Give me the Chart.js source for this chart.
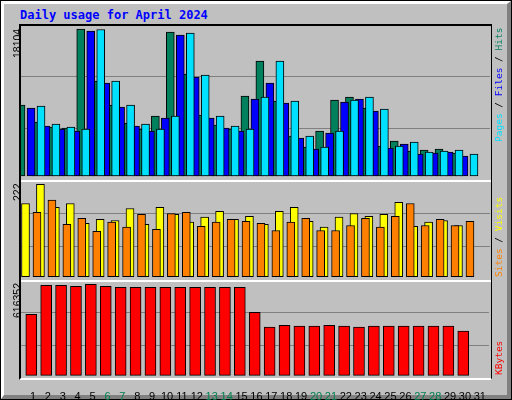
<!DOCTYPE html>
<html><head><meta charset="utf-8">
<script src="https://cdn.jsdelivr.net/npm/chart.js@4/dist/chart.umd.min.js"></script>
<style>
body{margin:0;background:#C0C0C0;width:512px;height:400px;overflow:hidden;position:relative;font-family:'Liberation Sans',sans-serif}
.abs{position:absolute}
canvas{position:absolute}
.frame{position:absolute;box-sizing:border-box;pointer-events:none}
.rot{position:absolute;transform-origin:left top;transform:rotate(-90deg);white-space:nowrap;line-height:1}
.mono{font-family:'DejaVu Sans Mono',monospace;font-size:9.5px}
.num{font-size:10.5px;color:#000}
</style></head><body>
<div class="frame" style="left:0;top:0;width:512px;height:400px;border:1px solid #000"></div>
<div class="frame" style="left:1px;top:1px;width:510px;height:398px;border-top:3px solid #fff;border-left:3px solid #fff;border-right:4px solid #808080;border-bottom:4px solid #808080"></div>
<div class="abs" style="left:20px;top:8px;font:bold 12px 'DejaVu Sans Mono',monospace;color:#0000FF">Daily usage for April 2024</div>
<canvas id="c1" width="470" height="155" style="left:20px;top:25px"></canvas>
<canvas id="c2" width="470" height="100" style="left:20px;top:180px"></canvas>
<canvas id="c3" width="470" height="120" style="left:20px;top:280px"></canvas>
<div class="frame" style="left:19px;top:24px;width:473px;height:158px;border-top:2px solid #000;border-left:2px solid #000;border-right:1px solid #000;border-bottom:2px solid #fff"></div>
<div class="frame" style="left:19px;top:180px;width:473px;height:102px;border-left:2px solid #000;border-right:1px solid #000;border-bottom:2px solid #fff"></div>
<div class="frame" style="left:19px;top:280px;width:473px;height:100px;border-left:2px solid #000;border-right:1px solid #000;border-bottom:2px solid #fff"></div>
<div class="rot num" style="left:12px;top:58px">18104</div>
<div class="rot num" style="left:12px;top:201px">222</div>
<div class="rot num" style="left:12px;top:318px">616352</div>
<div class="rot mono" style="left:494px;top:142px"><span style="color:#00E0FF">Pages</span> / <span style="color:#0000FF">Files</span> / <span style="color:#00805C">Hits</span></div>
<div class="rot mono" style="left:494px;top:277px"><span style="color:#FF8000">Sites</span> / <span style="color:#FFFF00">Visits</span></div>
<div class="rot mono" style="left:494px;top:375px"><span style="color:#FF0000">KBytes</span></div>
<script>
const days=[1,2,3,4,5,6,7,8,9,10,11,12,13,14,15,16,17,18,19,20,21,22,23,24,25,26,27,28,29,30,31];
const weekendDays=[6,7,13,14,20,21,27,28];
const hits=[8747,6653,6037,5914,18104,11704,8747,6530,5790,7392,17741,12566,7515,6283,5790,9856,14168,9240,4928,3573,5544,9363,9733,8378,3696,4312,3080,3203,3326,2834];
const files=[8380,6160,5790,5540,17850,11460,8500,6160,5540,7150,17370,12200,7150,5910,5540,9480,11458,8990,4680,3330,5300,9120,9480,8010,3450,3940,2710,2830,2960,2460];
const pages=[8624,6406,6037,5790,18050,11704,8747,6406,5790,7392,17618,12443,7392,6160,5790,9733,14168,9240,4928,3573,5544,9363,9733,8254,3696,4189,2957,3080,3203,2710];
const visits=[176,222,167,176,128,138,135,164,126,167,150,131,143,157,138,145,126,157,167,133,119,143,152,145,150,179,121,131,135,123];
const sites=[155,184,126,140,109,131,119,150,114,152,155,121,131,138,133,128,111,131,140,111,111,123,140,119,145,176,123,138,123,133];
const kbytes=[413100,609600,609600,602800,616352,602800,596000,596000,596000,596000,596000,596000,596000,596000,596000,426700,327400,338700,334100,334100,338700,334100,327400,334100,334100,334100,334100,334100,334100,300300];

const PPU=14.93, BMIN=0.129, BMAX=31.61;
function xAxis(d,extra){return Object.assign({type:'linear',display:false,offset:false,grid:{offset:false},min:BMIN-d/PPU,max:BMAX-d/PPU},extra||{});}
function yAxis(min,max){return {type:'linear',min:min,max:max,display:true,
  afterBuildTicks:s=>{s.ticks=[{value:min+(max-min)/3},{value:min+2*(max-min)/3}];},
  afterFit:s=>{s.width=0;},
  ticks:{display:false},border:{display:false},grid:{color:'#808080',lineWidth:1,drawTicks:false}};}
function pts(arr){return arr.map((v,i)=>({x:days[i],y:v}));}
function ds(arr,color,ax,w,order){return {data:pts(arr),xAxisID:ax,backgroundColor:color,borderColor:'#000',borderWidth:1,borderSkipped:false,barThickness:w,order:order};}
const base={animation:false,responsive:false,devicePixelRatio:1,layout:{padding:0},plugins:{legend:{display:false},tooltip:{enabled:false}}};

new Chart(document.getElementById('c1'),{type:'bar',data:{datasets:[
  ds(hits,'#00805C','xa',8,3),ds(files,'#0000FF','xb',8,2),ds(pages,'#00E0FF','xc',8,1)]},
  options:Object.assign({},base,{scales:{xa:xAxis(-4),xb:xAxis(-2),xc:xAxis(0),y:yAxis(-493,18603)}})});

new Chart(document.getElementById('c2'),{type:'bar',data:{datasets:[
  ds(visits,'#FFFF00','xa',8,2),ds(sites,'#FF8000','xb',8,1)]},
  options:Object.assign({},base,{scales:{xa:xAxis(-3.5),xb:xAxis(0),y:yAxis(-7.9,232.4)}})});

new Chart(document.getElementById('c3'),{type:'bar',data:{datasets:[
  ds(kbytes,'#FF0000','xa',11,1)]},
  options:Object.assign({},base,{scales:{
    xa:xAxis(-1.7),
    xt:xAxis(0,{display:true,position:'bottom',
      afterBuildTicks:s=>{s.ticks=days.map(v=>({value:v}));},
      afterFit:s=>{s.height=22;},
      grid:{display:false,offset:false},border:{display:false},
      ticks:{autoSkip:false,maxRotation:0,padding:4,font:{family:'Liberation Sans',size:11},
        color:c=>weekendDays.includes(c.tick.value)?'#008050':'#000',callback:v=>String(v)}}),
    y:yAxis(-18290,645470)}})});
</script>
</body></html>
